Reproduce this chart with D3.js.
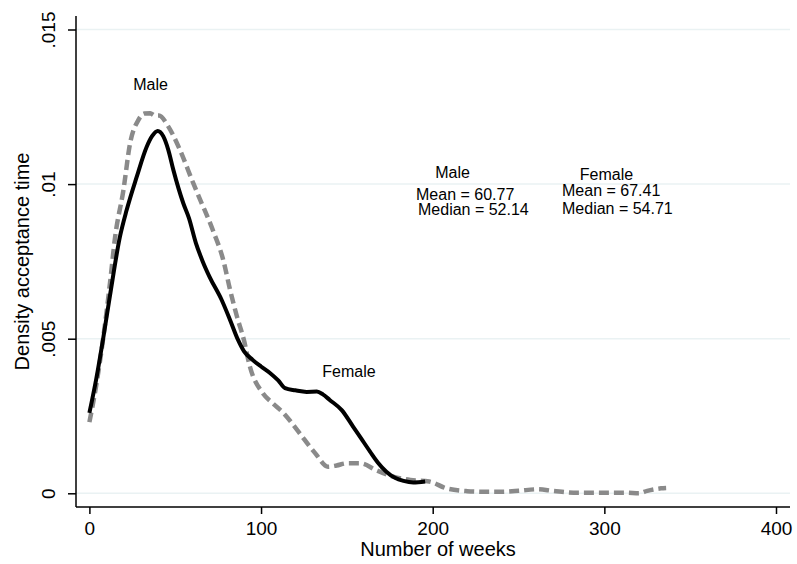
<!DOCTYPE html>
<html>
<head>
<meta charset="utf-8">
<script src="https://cdn.jsdelivr.net/npm/d3@7"></script>
<style>
  body { margin: 0; background: #fff; }
  svg text { font-family: "Liberation Sans", Arial, sans-serif; fill: #000; }
</style>
</head>
<body>
<svg id="canvas" width="797" height="564"></svg>
<script>
// Female (solid black)
let femaleX = [0, 4, 8, 12, 17.8, 21.7, 27.6, 33.4, 36.5, 39.8, 43, 46, 48.9, 54.7, 58, 62, 66, 70, 77, 82, 86.6, 90, 95, 100, 105, 110, 114, 120, 126.6, 132.5, 136, 140, 147, 153.7, 158, 163.5, 168, 173, 178, 183, 188.7, 195.6];
let femaleY = [0.0026, 0.0037, 0.005, 0.0064, 0.0083, 0.00916, 0.01024, 0.01121, 0.01155, 0.01172, 0.01155, 0.0111, 0.01046, 0.00938, 0.0089, 0.0081, 0.0075, 0.007, 0.00626, 0.0056, 0.00496, 0.0046, 0.00432, 0.0041, 0.0039, 0.00365, 0.0034, 0.00333, 0.00328, 0.00329, 0.0032, 0.00302, 0.00269, 0.00215, 0.0018, 0.00135, 0.001, 0.0007, 0.0005, 0.0004, 0.00035, 0.00038];

// Male (grey dashed)
let maleX = [0, 4, 8, 12, 15, 19.8, 23.7, 28.5, 32, 35.5, 38, 40.5, 46, 52.8, 60.5, 64.5, 72, 78, 82, 86, 90, 93.5, 101, 107, 113, 121, 131.5, 139, 144, 150, 158, 167, 177, 187, 198, 208, 220, 230, 240, 250, 261, 270, 282, 301, 313, 320, 325, 333, 336];
let maleY = [0.0023, 0.0035, 0.005, 0.0068, 0.0083, 0.0098, 0.01132, 0.01207, 0.01228, 0.01229, 0.01222, 0.01222, 0.01186, 0.0111, 0.01003, 0.0095, 0.0085, 0.00754, 0.00657, 0.00571, 0.00496, 0.0041, 0.00324, 0.0029, 0.0026, 0.00205, 0.0013, 0.00086, 0.0009, 0.00097, 0.00097, 0.00075, 0.00054, 0.00043, 0.00038, 0.00016, 0.00007, 0.00005, 0.00005, 0.00008, 0.00013, 0.00008, 0.00002, 0.00002, 0.00002, 0, 0.00008, 0.00016, 0.00017];

let xTicks = [0, 100, 200, 300, 400];
let yTicks = [0, 0.005, 0.01, 0.015];
let yTickLabels = ["0", ".005", ".01", ".015"];

let canvas = d3.select("#canvas");

let xScale = d3.scaleLinear().domain([0, 400]).range([89.4, 776]);
let yScale = d3.scaleLinear().domain([0, 0.015]).range([493.3, 29.5]);

let plotLeft = 76, plotRight = 790, plotTop = 16, plotBottom = 507;

// gridlines
canvas.append("g")
  .selectAll("line")
  .data(yTicks)
  .enter()
  .append("line")
  .attr("x1", plotLeft)
  .attr("x2", plotRight)
  .attr("y1", d => yScale(d))
  .attr("y2", d => yScale(d))
  .attr("stroke", "#eaf2f3")
  .attr("stroke-width", 1.5);

// curves
let line = d3.line()
  .x(d => xScale(d[0]))
  .y(d => yScale(d[1]))
  .curve(d3.curveMonotoneX);

canvas.append("path")
  .attr("d", line(maleX.map((x, i) => [x, maleY[i]])))
  .attr("fill", "none")
  .attr("stroke", "#8a8a8a")
  .attr("stroke-width", 4.5)
  .attr("stroke-dasharray", "10,5");

canvas.append("path")
  .attr("d", line(femaleX.map((x, i) => [x, femaleY[i]])))
  .attr("fill", "none")
  .attr("stroke", "#000")
  .attr("stroke-width", 4)
  .attr("stroke-linejoin", "round");

// axes
let xAxis = d3.axisBottom(xScale).tickValues(xTicks).tickSize(7).tickPadding(6);
let gx = canvas.append("g").attr("transform", `translate(0,${plotBottom})`).call(xAxis);
gx.select(".domain").remove();
gx.append("line").attr("x1", plotLeft).attr("x2", plotRight).attr("stroke", "#000").attr("stroke-width", 1.5);
gx.selectAll(".tick line").attr("stroke-width", 1.5);
gx.selectAll(".tick text").attr("font-size", 19).attr("dy", null).attr("y", 28);

let yAxis = d3.axisLeft(yScale).tickValues(yTicks).tickFormat((d, i) => yTickLabels[i]).tickSize(8);
let gy = canvas.append("g").attr("transform", `translate(${plotLeft},0)`).call(yAxis);
gy.select(".domain").remove();
gy.append("line").attr("y1", plotTop).attr("y2", plotBottom).attr("stroke", "#000").attr("stroke-width", 1.5);
gy.selectAll(".tick line").attr("stroke-width", 1.5);
gy.selectAll(".tick text")
  .attr("font-size", 19)
  .attr("x", null).attr("dy", null)
  .attr("text-anchor", "middle")
  .attr("transform", "translate(-21,0) rotate(-90)");

// axis titles
canvas.append("text")
  .attr("x", (plotLeft + plotRight) / 2 + 5)
  .attr("y", 556)
  .attr("text-anchor", "middle")
  .attr("font-size", 20)
  .text("Number of weeks");

canvas.append("text")
  .attr("transform", `translate(29,${(plotTop + plotBottom) / 2}) rotate(-90)`)
  .attr("text-anchor", "middle")
  .attr("font-size", 20)
  .text("Density acceptance time");

// annotations
let notes = [
  { t: "Male", x: 150.5, y: 90, a: "middle" },
  { t: "Female", x: 349, y: 377, a: "middle" },
  { t: "Male", x: 452.5, y: 178, a: "middle" },
  { t: "Mean = 60.77", x: 416, y: 199.5, a: "start" },
  { t: "Median = 52.14", x: 418, y: 215, a: "start" },
  { t: "Female", x: 606.5, y: 180, a: "middle" },
  { t: "Mean = 67.41", x: 562, y: 195.7, a: "start" },
  { t: "Median = 54.71", x: 562, y: 214.3, a: "start" }
];
canvas.append("g")
  .selectAll("text")
  .data(notes)
  .enter()
  .append("text")
  .attr("x", d => d.x)
  .attr("y", d => d.y)
  .attr("text-anchor", d => d.a)
  .attr("font-size", 16)
  .text(d => d.t);
</script>
</body>
</html>
